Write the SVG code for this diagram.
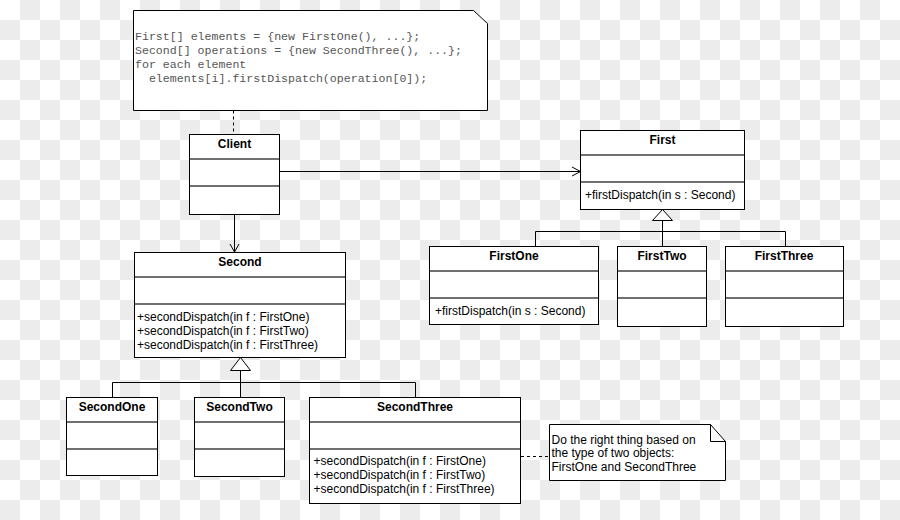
<svg xmlns="http://www.w3.org/2000/svg" width="900" height="520" viewBox="0 0 900 520">
<defs>
<pattern id="checker" patternUnits="userSpaceOnUse" width="40" height="40">
<rect width="40" height="40" fill="#ffffff"/>
<rect x="20" y="0" width="20" height="20" fill="#ececec"/>
<rect x="0" y="20" width="20" height="20" fill="#ececec"/>
</pattern>
<style>
.box{fill:#fff;stroke:#000;stroke-width:1}
.dv{stroke:#707070;stroke-width:2}
.ln{fill:none;stroke:#000;stroke-width:1}
.dash{fill:none;stroke:#000;stroke-width:1;stroke-dasharray:3,3}
.tri{fill:#fff;stroke:#000;stroke-width:1}
.t{font-family:"Liberation Sans",Arial,sans-serif;font-size:12px;font-weight:bold;text-anchor:middle;fill:#000}
.m{font-family:"Liberation Sans",Arial,sans-serif;font-size:12px;fill:#000}
.code{font-family:"Liberation Mono","Courier New",monospace;font-size:11.6px;fill:#555;white-space:pre}
</style>
</defs>
<rect width="900" height="520" fill="url(#checker)"/>

<g id="connectors">
<line class="dash" x1="233.5" y1="110.5" x2="233.5" y2="134"/>
<line class="ln" x1="234.5" y1="214.5" x2="234.5" y2="252"/>
<polyline class="ln" points="230,244 234.5,252 239,244"/>
<line class="ln" x1="279.5" y1="171.5" x2="580" y2="171.5"/>
<polyline class="ln" points="572,167 580.5,171.5 572,176"/>
<line class="ln" x1="662.5" y1="220.5" x2="662.5" y2="231.5"/>
<line class="ln" x1="535.5" y1="231.5" x2="785.5" y2="231.5"/>
<line class="ln" x1="535.5" y1="231.5" x2="535.5" y2="246.5"/>
<line class="ln" x1="662.5" y1="231.5" x2="662.5" y2="246.5"/>
<line class="ln" x1="785.5" y1="231.5" x2="785.5" y2="246.5"/>
<polygon class="tri" points="662.5,209.5 652.5,220.5 672.5,220.5"/>
<line class="ln" x1="240.5" y1="370.5" x2="240.5" y2="382.5"/>
<line class="ln" x1="112.5" y1="382.5" x2="415.5" y2="382.5"/>
<line class="ln" x1="112.5" y1="382.5" x2="112.5" y2="397.5"/>
<line class="ln" x1="240.5" y1="382.5" x2="240.5" y2="397.5"/>
<line class="ln" x1="415.5" y1="382.5" x2="415.5" y2="397.5"/>
<polygon class="tri" points="240.5,357.5 230.5,370.5 250.5,370.5"/>
<line class="dash" x1="521" y1="456.5" x2="549" y2="456.5"/>
</g>

<g id="note-code">
<path class="box" d="M133.5,10.5 H473.5 L487.5,23.5 V110.5 H133.5 Z"/>
<text class="code" x="135" y="40">First[] elements = {new FirstOne(), ...};</text>
<text class="code" x="135" y="54">Second[] operations = {new SecondThree(), ...};</text>
<text class="code" x="135" y="68">for each element</text>
<text class="code" x="135" y="81.5">  elements[i].firstDispatch(operation[0]);</text>
</g>

<g id="Client">
<rect class="box" x="189.5" y="134.5" width="90" height="80"/>
<line class="dv" x1="190" y1="159" x2="279" y2="159"/>
<line class="dv" x1="190" y1="186" x2="279" y2="186"/>
<text class="t" x="234.5" y="148">Client</text>
</g>

<g id="First">
<rect class="box" x="580.5" y="130.5" width="164" height="79"/>
<line class="dv" x1="581" y1="155" x2="744" y2="155"/>
<line class="dv" x1="581" y1="182" x2="744" y2="182"/>
<text class="t" x="662.5" y="144">First</text>
<text class="m" x="585" y="199">+firstDispatch(in s : Second)</text>
</g>

<g id="FirstOne">
<rect class="box" x="429.5" y="246.5" width="169" height="78"/>
<line class="dv" x1="430" y1="271" x2="598" y2="271"/>
<line class="dv" x1="430" y1="298" x2="598" y2="298"/>
<text class="t" x="514" y="260">FirstOne</text>
<text class="m" x="435" y="314.5">+firstDispatch(in s : Second)</text>
</g>

<g id="FirstTwo">
<rect class="box" x="617.5" y="246.5" width="89" height="80"/>
<line class="dv" x1="618" y1="271" x2="706" y2="271"/>
<line class="dv" x1="618" y1="298" x2="706" y2="298"/>
<text class="t" x="662" y="260">FirstTwo</text>
</g>

<g id="FirstThree">
<rect class="box" x="725.5" y="246.5" width="118" height="80"/>
<line class="dv" x1="726" y1="271" x2="843" y2="271"/>
<line class="dv" x1="726" y1="298" x2="843" y2="298"/>
<text class="t" x="784" y="260">FirstThree</text>
</g>

<g id="Second">
<rect class="box" x="134.5" y="252.5" width="211" height="105"/>
<line class="dv" x1="135" y1="277" x2="345" y2="277"/>
<line class="dv" x1="135" y1="304" x2="345" y2="304"/>
<text class="t" x="240" y="266">Second</text>
<text class="m" x="137" y="320.5">+secondDispatch(in f : FirstOne)</text>
<text class="m" x="137" y="334.5">+secondDispatch(in f : FirstTwo)</text>
<text class="m" x="137" y="348.5">+secondDispatch(in f : FirstThree)</text>
</g>

<g id="SecondOne">
<rect class="box" x="66.5" y="397.5" width="91" height="78"/>
<line class="dv" x1="67" y1="422" x2="157" y2="422"/>
<line class="dv" x1="67" y1="449" x2="157" y2="449"/>
<text class="t" x="112" y="411">SecondOne</text>
</g>

<g id="SecondTwo">
<rect class="box" x="194.5" y="397.5" width="90" height="79"/>
<line class="dv" x1="195" y1="422" x2="284" y2="422"/>
<line class="dv" x1="195" y1="449" x2="284" y2="449"/>
<text class="t" x="239.5" y="411">SecondTwo</text>
</g>

<g id="SecondThree">
<rect class="box" x="309.5" y="397.5" width="211" height="106"/>
<line class="dv" x1="310" y1="422" x2="520" y2="422"/>
<line class="dv" x1="310" y1="449" x2="520" y2="449"/>
<text class="t" x="415" y="411">SecondThree</text>
<text class="m" x="313.5" y="464.5">+secondDispatch(in f : FirstOne)</text>
<text class="m" x="313.5" y="478.5">+secondDispatch(in f : FirstTwo)</text>
<text class="m" x="313.5" y="492.5">+secondDispatch(in f : FirstThree)</text>
</g>

<g id="note-dispatch">
<path class="box" d="M549.5,424.5 H710.5 L725.5,441.5 V480.5 H549.5 Z"/>
<polyline class="ln" points="710.5,424.5 710.5,441.5 725.5,441.5"/>
<text class="m" x="551.5" y="443.5">Do the right thing based on</text>
<text class="m" x="551.5" y="457">the type of two objects:</text>
<text class="m" x="551.5" y="471">FirstOne and SecondThree</text>
</g>
</svg>
